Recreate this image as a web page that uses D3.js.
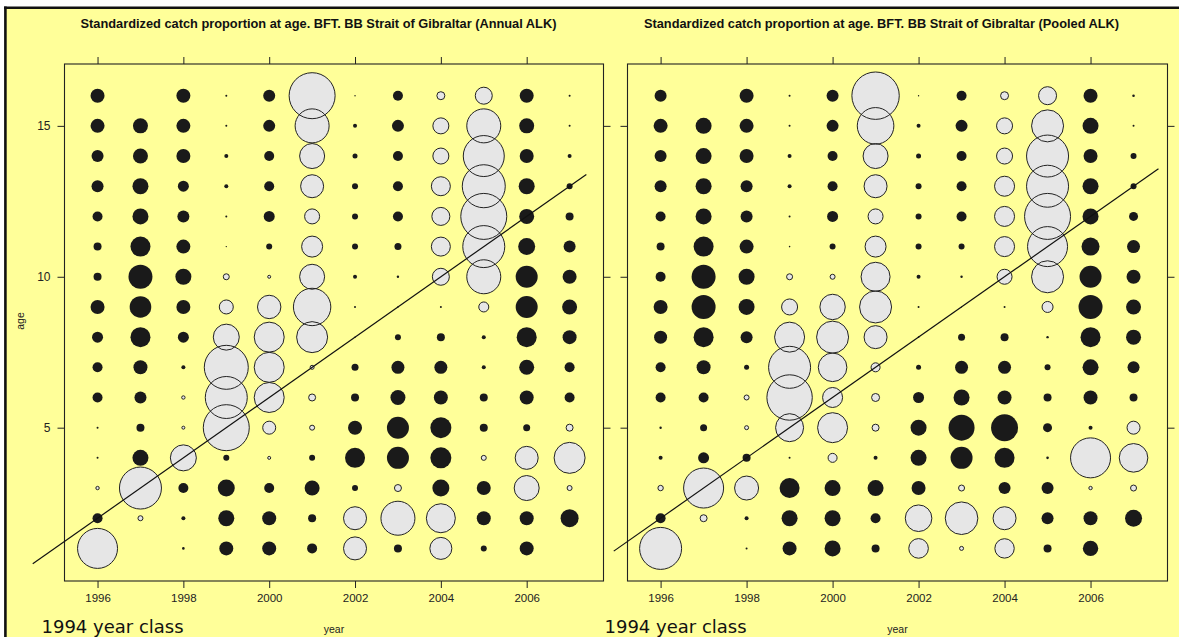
<!DOCTYPE html>
<html>
<head>
<meta charset="utf-8">
<script src="https://cdn.jsdelivr.net/npm/d3@7"></script>
<style>
body { margin: 0; background: #fff; }
svg { display: block; font-family: "Liberation Sans", Arial, sans-serif; }
</style>
</head>
<body>
<svg id="chart" width="1179" height="637"></svg>
<script>
/* Data: standardized catch proportion at age,
   positive = grey bubble, negative = black bubble, null = no bubble */
var years = [1996, 1997, 1998, 1999, 2000, 2001, 2002, 2003, 2004, 2005, 2006, 2007];
var ages = [16, 15, 14, 13, 12, 11, 10, 9, 8, 7, 6, 5, 4, 3, 2, 1];
var tickYears = [1996, 1998, 2000, 2002, 2004, 2006];
var tickAges = [5, 10, 15];
var yearClass = 1994;

var titles = [
	"Standardized catch proportion at age. BFT. BB Strait of Gibraltar (Annual ALK)",
	"Standardized catch proportion at age. BFT. BB Strait of Gibraltar (Pooled ALK)"
];

// rows follow ages (16 -> 1), columns follow years (1996 -> 2007)
var annualALK = [
	[-0.7, null, -0.7, -0.1, -0.6, 2.3, -0.07, -0.5, 0.4, 0.85, -0.7, -0.1],
	[-0.7, -0.75, -0.7, -0.1, -0.6, 1.7, -0.2, -0.6, 0.8, 1.7, -0.75, -0.1],
	[-0.6, -0.75, -0.7, -0.2, -0.5, 1.25, -0.25, -0.5, 0.8, 2.05, -0.7, -0.2],
	[-0.6, -0.8, -0.55, -0.2, -0.5, 1.15, -0.3, -0.5, 0.95, 2.15, -0.8, -0.3],
	[-0.5, -0.8, -0.6, -0.1, -0.55, 0.75, -0.3, -0.5, 0.9, 2.3, -0.75, -0.4],
	[-0.4, -1.0, -0.7, -0.07, -0.3, 1.05, -0.3, -0.35, 0.95, 2.1, -0.85, -0.6],
	[-0.4, -1.2, -0.8, 0.3, 0.15, 1.25, -0.2, -0.12, 0.85, 1.7, -1.1, -0.7],
	[-0.7, -1.08, -0.7, 0.7, 1.17, 1.87, -0.1, -0.08, -0.1, 0.5, -1.1, -0.75],
	[-0.55, -1.0, -0.55, 1.3, 1.5, 1.55, -0.07, -0.3, -0.4, -0.2, -1.0, -0.7],
	[-0.5, -0.7, -0.2, 2.2, 1.5, 0.2, -0.35, -0.65, -0.65, -0.2, -0.75, -0.5],
	[-0.5, -0.6, 0.17, 2.1, 1.5, 0.35, -0.4, -0.75, -0.7, -0.4, -0.7, -0.5],
	[-0.1, -0.4, 0.15, 2.3, 0.65, 0.25, -0.7, -1.1, -1.05, -0.4, -0.35, 0.35],
	[-0.1, -0.8, 1.3, -0.3, 0.15, -0.3, -1.0, -1.1, -1.05, 0.25, 1.15, 1.55],
	[0.17, 2.1, -0.5, -0.85, -0.5, -0.75, -0.3, 0.35, -0.85, -0.7, 1.25, 0.25],
	[-0.5, 0.25, -0.2, -0.8, -0.7, -0.4, 1.15, 1.7, 1.45, -0.7, -0.7, -0.9],
	[2.0, null, -0.13, -0.7, -0.7, -0.5, 1.15, -0.4, 1.1, -0.3, -0.7, null]
];

var pooledALK = [
	[-0.6, null, -0.7, -0.1, -0.6, 2.37, -0.07, -0.5, 0.4, 0.9, -0.7, -0.13],
	[-0.7, -0.8, -0.7, -0.1, -0.6, 1.83, -0.2, -0.6, 0.8, 1.6, -0.8, -0.1],
	[-0.6, -0.8, -0.7, -0.2, -0.5, 1.25, -0.25, -0.5, 0.8, 2.1, -0.7, -0.3],
	[-0.6, -0.8, -0.6, -0.2, -0.5, 1.15, -0.3, -0.5, 1.0, 2.1, -0.8, -0.3],
	[-0.5, -0.8, -0.6, -0.1, -0.55, 0.75, -0.3, -0.5, 1.0, 2.3, -0.8, -0.45],
	[-0.4, -1.0, -0.7, -0.08, -0.3, 1.05, -0.3, -0.3, 1.0, 2.0, -0.9, -0.65],
	[-0.5, -1.2, -0.8, 0.3, 0.25, 1.45, -0.2, -0.12, 0.75, 1.6, -1.1, -0.7],
	[-0.7, -1.2, -0.8, 0.8, 1.27, 1.6, -0.1, -0.05, -0.1, 0.55, -1.2, -0.75],
	[-0.65, -1.0, -0.6, 1.5, 1.6, 1.15, -0.08, -0.35, -0.4, -0.12, -1.0, -0.75],
	[-0.5, -0.7, -0.25, 2.1, 1.43, 0.45, -0.25, -0.65, -0.65, -0.3, -0.8, -0.6],
	[-0.5, -0.5, 0.25, 2.27, 1.0, 0.4, -0.55, -0.8, -0.7, -0.4, -0.7, -0.4],
	[-0.12, -0.35, 0.2, 1.4, 1.5, 0.35, -0.8, -1.3, -1.35, -0.45, -0.2, 0.65],
	[-0.2, -0.55, -0.4, -0.1, 0.45, -0.2, -0.8, -1.1, -1.0, -0.13, 2.0, 1.43],
	[0.27, 2.0, 1.2, -1.0, -0.8, -0.8, -0.7, 0.3, -0.6, -0.6, 0.17, 0.3],
	[-0.5, 0.35, -0.2, -0.8, -0.8, -0.5, 1.33, 1.63, 1.15, -0.6, -0.7, -0.85],
	[2.1, null, -0.1, -0.7, -0.8, -0.4, 0.98, 0.2, 0.97, -0.4, -0.77, null]
];

// year span of the cohort line in each panel
var annualLine = [1994.49, 2007.39];
var pooledLine = [1994.91, 2007.58];

var width = 1179;
var height = 637;
var plotTop = 64, plotBottom = 581;

var bg = "#FFFF99";
var posFill = "#E6E6E6";
var negFill = "#1A1A1A";

var svg = d3.select("#chart");

/* page frame */
svg.append("rect")
	.attr("x", 5.5).attr("y", 7.5)
	.attr("width", width).attr("height", height)
	.attr("fill", bg);
svg.append("line")
	.attr("x1", 4).attr("x2", width)
	.attr("y1", 7.8).attr("y2", 7.8)
	.attr("stroke", "#111").attr("stroke-width", 2.6);
svg.append("line")
	.attr("x1", 5.4).attr("x2", 5.4)
	.attr("y1", 6.5).attr("y2", height)
	.attr("stroke", "#111").attr("stroke-width", 2.6);

var yScale = d3.scaleLinear()
	.domain([-0.08, 17.05])
	.range([plotBottom, plotTop]);

// bubble radius proportional to |value|
var rScale = d3.scaleLinear()
	.domain([0, 1])
	.range([0, 10]);

var panels = [
	{title: titles[0], values: annualALK, span: annualLine, x0: 64.5, x1: 603.5, titleX: 318.5, yLabels: true},
	{title: titles[1], values: pooledALK, span: pooledLine, x0: 627.5, x1: 1167.5, titleX: 881.5, yLabels: false}
];

panels.forEach(function(p) {
	var xScale = d3.scaleLinear()
		.domain([1995.23, 2007.79])
		.range([p.x0, p.x1]);

	var cells = [];
	p.values.forEach(function(row, i) {
		row.forEach(function(v, j) {
			if (v !== null) cells.push({year: years[j], age: ages[i], value: v});
		});
	});

	var g = svg.append("g");

	/* title */
	g.append("text")
		.attr("x", p.titleX).attr("y", 28)
		.attr("text-anchor", "middle")
		.attr("font-weight", "bold")
		.attr("font-size", "12.8px")
		.attr("fill", "#111")
		.text(p.title);

	/* bubbles: fills first, then outlines of the grey ones */
	g.append("g").selectAll("circle")
		.data(cells).enter()
		.append("circle")
		.attr("cx", d => xScale(d.year))
		.attr("cy", d => yScale(d.age))
		.attr("r", d => rScale(Math.abs(d.value)))
		.attr("fill", d => d.value > 0 ? posFill : negFill);

	g.append("g").selectAll("circle")
		.data(cells.filter(d => d.value > 0)).enter()
		.append("circle")
		.attr("cx", d => xScale(d.year))
		.attr("cy", d => yScale(d.age))
		.attr("r", d => rScale(d.value))
		.attr("fill", "none")
		.attr("stroke", "#222")
		.attr("stroke-width", 1);

	/* box */
	g.append("rect")
		.attr("x", p.x0).attr("y", plotTop)
		.attr("width", p.x1 - p.x0).attr("height", plotBottom - plotTop)
		.attr("fill", "none")
		.attr("stroke", "#222")
		.attr("stroke-width", 1.1);

	/* cohort line */
	var line = d3.line()
		.x(d => xScale(d))
		.y(d => yScale(d - yearClass));
	g.append("path")
		.attr("d", line(p.span))
		.attr("fill", "none")
		.attr("stroke", "#111")
		.attr("stroke-width", 1.2);

	/* axes */
	function tidy(sel, size) {
		sel.select(".domain").remove();
		sel.selectAll("line").attr("stroke", "#222");
		sel.selectAll("text").attr("fill", "#222").attr("font-size", size)
			.attr("font-family", "'Liberation Sans', Arial, sans-serif");
	}

	g.append("g")
		.attr("transform", `translate(0, ${plotBottom})`)
		.call(d3.axisBottom(xScale).tickValues(tickYears).tickFormat(d3.format("d"))
			.tickSize(7).tickPadding(6).tickSizeOuter(0))
		.call(s => tidy(s, "11.5px"));

	g.append("g")
		.attr("transform", `translate(0, ${plotTop})`)
		.call(d3.axisTop(xScale).tickValues(tickYears).tickFormat("")
			.tickSize(7).tickSizeOuter(0))
		.call(s => tidy(s, "11px"));

	g.append("g")
		.attr("transform", `translate(${p.x0}, 0)`)
		.call(d3.axisLeft(yScale).tickValues(tickAges)
			.tickFormat(p.yLabels ? d3.format("d") : "")
			.tickSize(7).tickPadding(7).tickSizeOuter(0))
		.call(s => tidy(s, "12px"));

	g.append("g")
		.attr("transform", `translate(${p.x1}, 0)`)
		.call(d3.axisRight(yScale).tickValues(tickAges).tickFormat("")
			.tickSize(7).tickSizeOuter(0))
		.call(s => tidy(s, "11px"));

	/* axis titles */
	g.append("text")
		.attr("x", (p.x0 + p.x1) / 2).attr("y", 633)
		.attr("text-anchor", "middle")
		.attr("font-size", "10.5px")
		.attr("fill", "#222")
		.text("year");

	if (p.yLabels) {
		g.append("text")
			.attr("transform", "translate(24, 321) rotate(-90)")
			.attr("text-anchor", "middle")
			.attr("font-size", "10.5px")
			.attr("fill", "#222")
			.text("age");
	}

	g.append("text")
		.attr("x", p.x0 - 23).attr("y", 633)
		.attr("font-family", "'DejaVu Sans', Verdana, sans-serif")
		.attr("font-size", "18px")
		.attr("fill", "#111")
		.text(yearClass + " year class");
});
</script>
</body>
</html>
